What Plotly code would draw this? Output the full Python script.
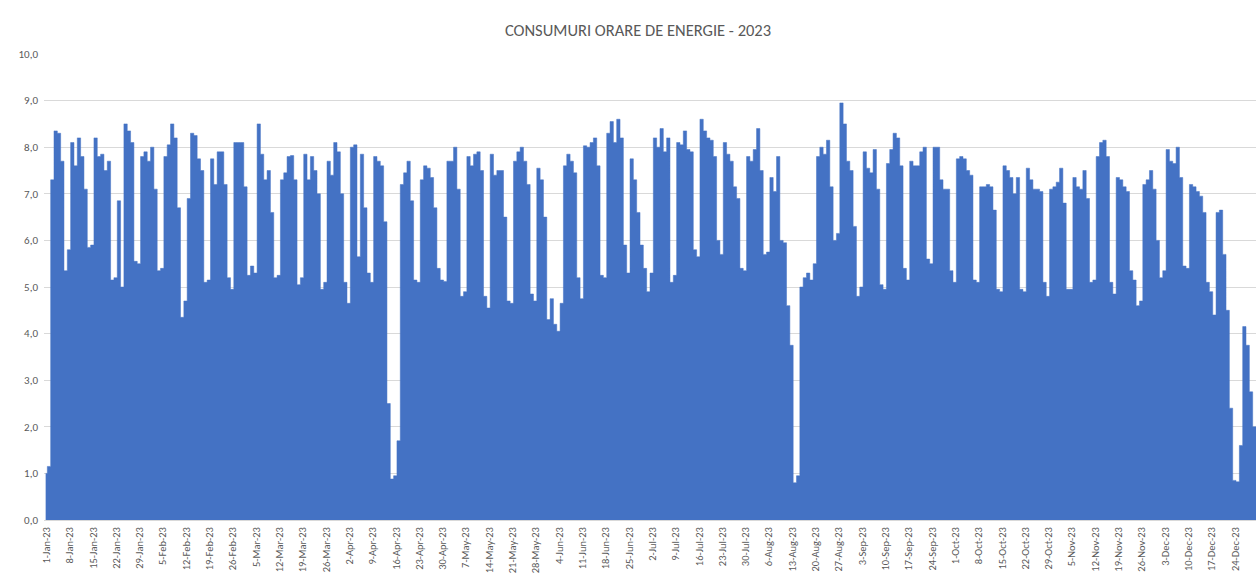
import pandas as pd
import plotly.graph_objects as go

# Daily values, one list per month
jan = [1.0, 1.15, 7.3, 8.35, 8.3, 7.7, 5.35, 5.8, 8.1, 7.6, 8.2, 7.8, 7.1, 5.85, 5.9, 8.2,
       7.8, 7.85, 7.5, 7.7, 5.15, 5.2, 6.85, 5.0, 8.5, 8.35, 8.1, 5.55, 5.5, 7.8, 7.9]
feb = [7.7, 8.0, 7.1, 5.35, 5.4, 7.8, 8.05, 8.5, 8.2, 6.7, 4.35, 4.7, 6.9, 8.3, 8.25, 7.75,
       7.5, 5.1, 5.15, 7.75, 7.2, 7.9, 7.9, 7.2, 5.2, 4.95, 8.1, 8.1]
mar = [8.1, 7.15, 5.25, 5.45, 5.3, 8.5, 7.85, 7.3, 7.5, 6.6, 5.2, 5.25, 7.3, 7.45, 7.8, 7.82,
       7.3, 5.05, 5.2, 7.85, 7.3, 7.8, 7.5, 7.0, 4.95, 5.1, 7.7, 7.4, 8.1, 7.9, 7.0]
apr = [5.1, 4.65, 8.0, 8.05, 5.65, 7.85, 6.7, 5.3, 5.1, 7.8, 7.7, 7.6, 6.4, 2.5, 0.88, 0.95,
       1.7, 7.2, 7.45, 7.7, 6.85, 5.15, 5.1, 7.3, 7.6, 7.55, 7.35, 6.7, 5.4, 5.15]
may = [5.12, 7.7, 7.7, 8.0, 7.1, 4.8, 4.9, 7.8, 7.6, 7.85, 7.9, 7.5, 4.8, 4.55, 7.85, 7.4,
       7.5, 7.5, 6.5, 4.7, 4.65, 7.7, 7.9, 8.0, 7.7, 7.2, 4.85, 4.7, 7.55, 7.3, 6.5]
jun = [4.3, 4.75, 4.2, 4.05, 4.65, 7.6, 7.85, 7.7, 7.45, 5.2, 4.75, 8.03, 8.0, 8.1, 8.2, 7.6,
       5.25, 5.2, 8.3, 8.55, 8.1, 8.6, 8.2, 5.9, 5.3, 7.75, 7.3, 6.6, 5.9, 5.4]
jul = [4.9, 5.3, 8.2, 8.0, 8.4, 7.9, 8.2, 5.1, 5.25, 8.1, 8.05, 8.35, 7.95, 7.9, 5.8, 5.65,
       8.6, 8.35, 8.2, 8.15, 7.8, 6.0, 5.7, 8.1, 7.85, 7.7, 7.15, 6.9, 5.4, 5.35, 7.8]
aug = [7.7, 7.95, 8.4, 7.5, 5.7, 5.75, 7.35, 7.05, 7.8, 6.0, 5.95, 4.6, 3.75, 0.8, 0.95, 5.0,
       5.2, 5.3, 5.15, 5.5, 7.8, 8.0, 7.85, 8.15, 7.15, 6.0, 6.15, 8.95, 8.5, 7.7, 7.5]
sep = [6.3, 4.8, 5.0, 7.9, 7.55, 7.45, 7.95, 7.1, 5.05, 4.95, 7.65, 7.95, 8.3, 8.2, 7.6, 5.4,
       5.15, 7.7, 7.6, 7.6, 7.9, 8.0, 5.6, 5.5, 8.0, 8.0, 7.3, 7.1, 7.1, 5.35]
oct = [5.1, 7.75, 7.8, 7.75, 7.5, 7.4, 5.15, 5.1, 7.15, 7.15, 7.2, 7.15, 6.65, 4.95, 4.9, 7.6,
       7.5, 7.35, 7.0, 7.35, 4.95, 4.9, 7.55, 7.3, 7.1, 7.1, 7.05, 5.1, 4.8, 7.1, 7.15]
nov = [7.25, 7.55, 6.8, 4.95, 4.95, 7.35, 7.15, 7.1, 7.5, 6.9, 5.1, 5.15, 7.8, 8.1, 8.15, 7.8,
       5.1, 4.85, 7.35, 7.3, 7.15, 7.05, 5.35, 5.15, 4.6, 4.7, 7.2, 7.3, 7.5, 7.1]
dec = [6.0, 5.2, 5.35, 7.95, 7.7, 7.65, 8.0, 7.35, 5.45, 5.4, 7.2, 7.15, 7.05, 6.95, 6.6, 5.1,
       4.9, 4.4, 6.6, 6.65, 5.7, 4.5, 2.4, 0.85, 0.82, 1.6, 4.15, 3.75, 2.75, 2.0, 2.0]

values = jan + feb + mar + apr + may + jun + jul + aug + sep + oct + nov + dec
dates = pd.date_range("2023-01-01 12:00", periods=len(values), freq="D")

title_text = "CONSUMURI ORARE DE ENERGIE - 2023"
grey = "#595959"
font_family = "Carlito, Calibri, Liberation Sans, Arial, sans-serif"

W, H = 1256, 577

fig = go.Figure()
fig.add_trace(go.Scatter(
    x=dates, y=values, mode="lines", fill="tozeroy", line_shape="hvh",
    line=dict(color="#4472C4", width=0.5), fillcolor="#4472C4",
    hoverinfo="x+y", showlegend=False,
))

fig.update_layout(
    width=W, height=H,
    margin=dict(l=44, r=0, t=54, b=57, autoexpand=False),
    paper_bgcolor="white", plot_bgcolor="white",
    separators=",.",
    font=dict(family=font_family, color=grey),
    title=dict(text=title_text, x=638 / W, xref="container", xanchor="center",
               y=1 - 30 / H, yref="container", yanchor="middle",
               font=dict(size=16.5, color=grey, family=font_family)),
)
fig.update_yaxes(
    range=[0, 10], dtick=1, tickformat=".1f", automargin=False,
    showgrid=True, gridcolor="#D9D9D9", gridwidth=1,
    zeroline=False, showline=False,
    tickfont=dict(size=11, color=grey), ticks="", ticklen=0,
    ticklabelstandoff=5,
)
fig.update_xaxes(
    type="date", automargin=False,
    range=["2023-01-01 00:00", "2023-12-31 00:00"],
    tick0="2023-01-01 18:00", dtick=7 * 86400000,
    tickformat="%-d-%b-%y", tickangle=-90,
    tickfont=dict(size=10.5, color=grey),
    showgrid=False, zeroline=False,
    showline=True, linecolor="#D9D9D9", linewidth=1,
    ticks="", ticklabelstandoff=2,
)

fig.write_html(
    "out.html",
    config={"displayModeBar": False},
    post_script="document.body.style.margin='0';document.body.style.overflow='hidden';",
)
